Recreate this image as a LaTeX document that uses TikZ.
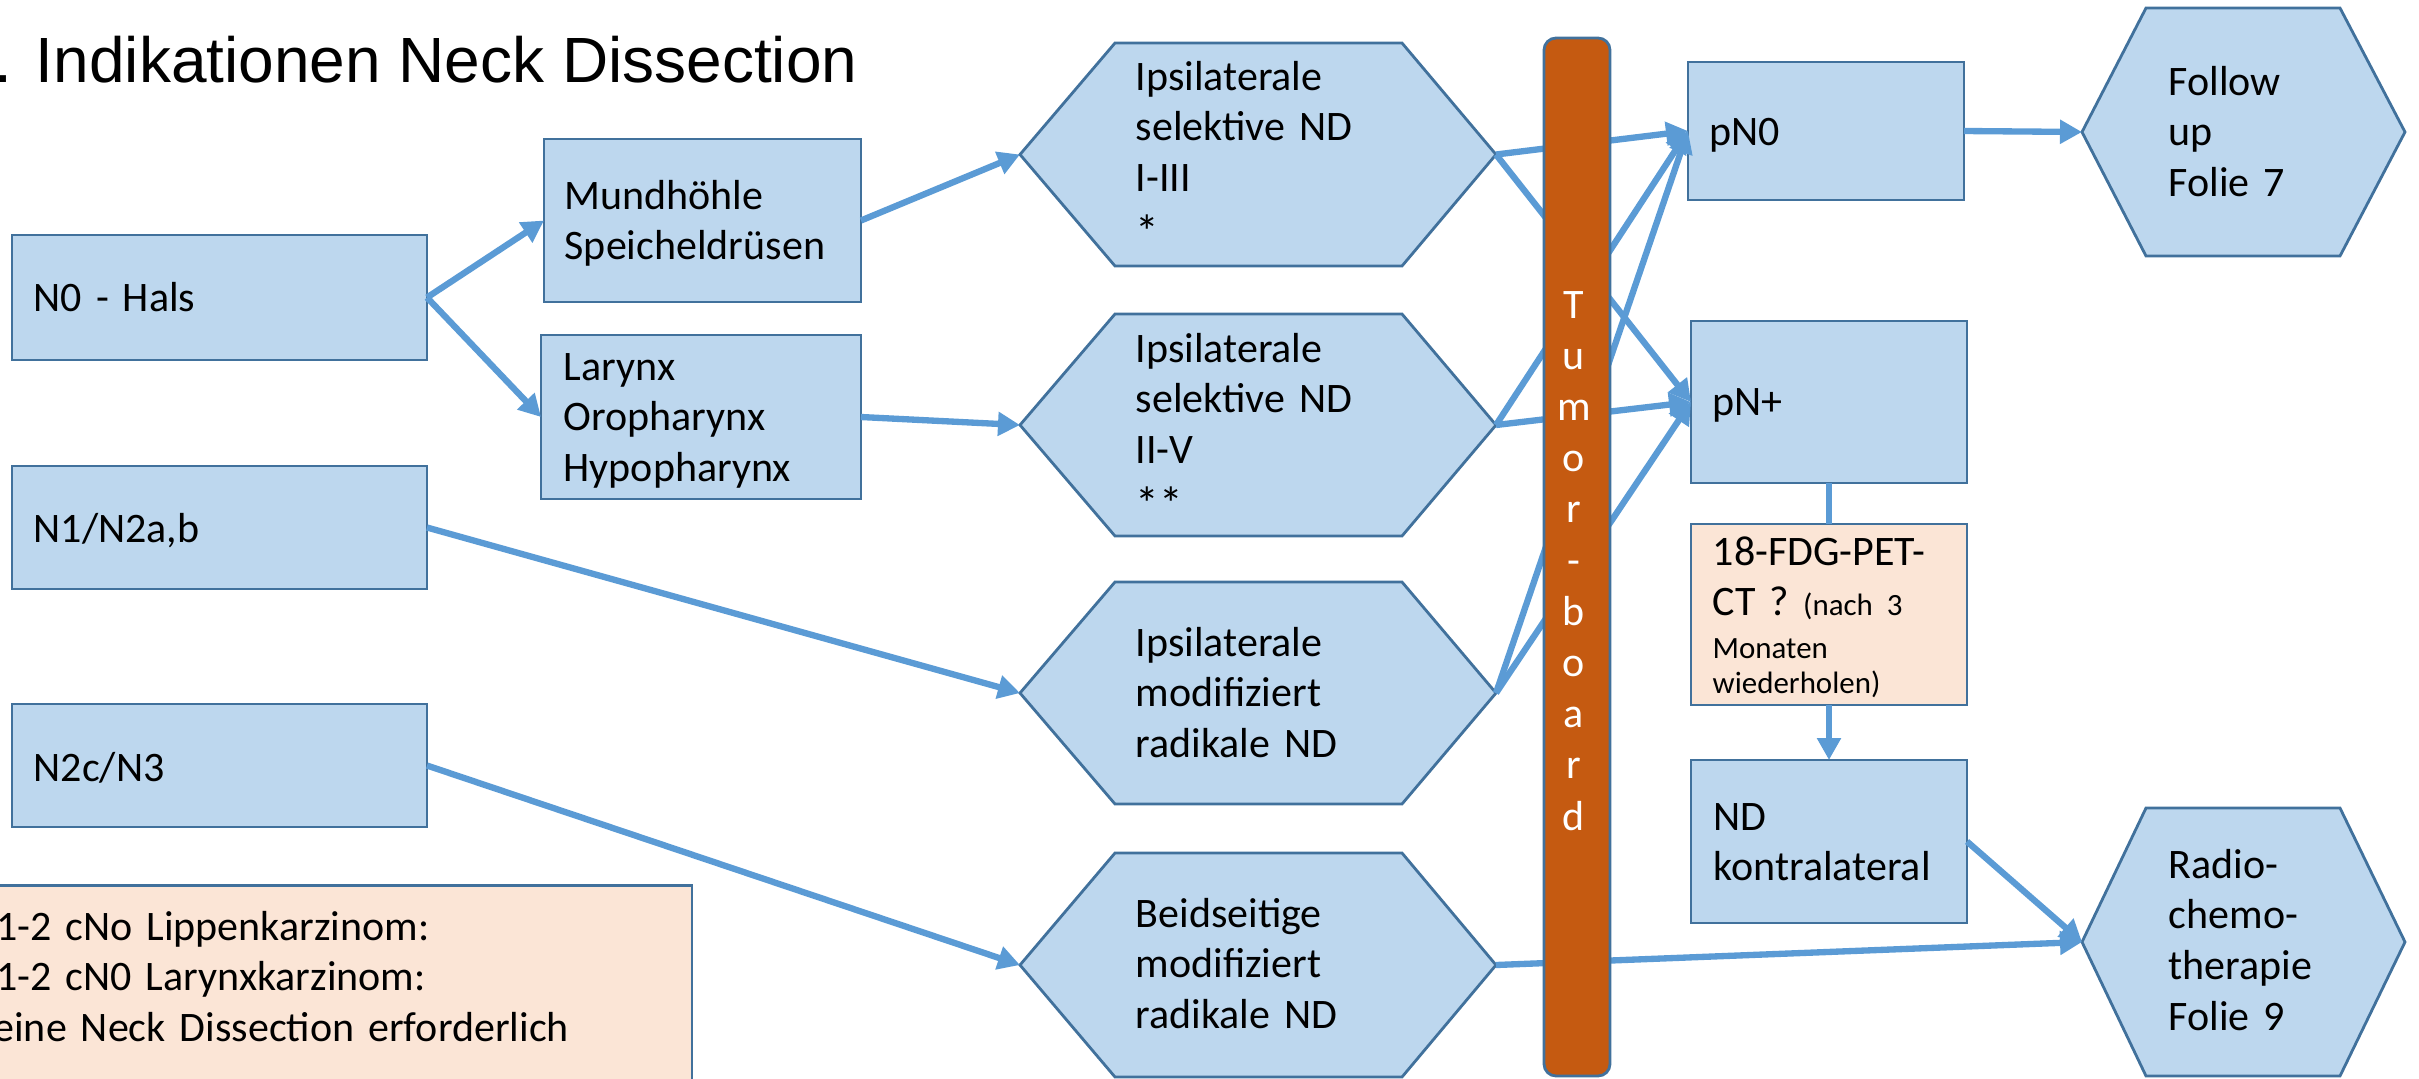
\documentclass[tikz,border=0pt]{standalone}
\usepackage{fontspec}
\setmainfont{Carlito}
\newfontfamily\titlefont{Liberation Sans}
\usetikzlibrary{arrows.meta}
\definecolor{boxfill}{HTML}{BDD7EE}
\definecolor{boxline}{HTML}{41719C}
\definecolor{peach}{HTML}{FBE5D6}
\definecolor{arrowc}{HTML}{5B9BD5}
\definecolor{barfill}{HTML}{C55A11}
\newcommand{\hexa}[7]{%
  \path (#2,{(#6+#7)/2}) coordinate (#1w) (#5,{(#6+#7)/2}) coordinate (#1e);
  \draw[hexstyle] (#1w) -- (#3,#6) -- (#4,#6) -- (#1e) -- (#4,#7) -- (#3,#7) -- cycle;}
\newcommand{\bigast}[1]{\raisebox{-1.6pt}{\fontsize{13.5}{14}\selectfont #1}}
\begin{document}
\begin{tikzpicture}[x=0.1mm,y=-0.1mm,
  box/.style={rectangle, draw=boxline, fill=boxfill, line width=0.8pt, outer sep=0pt, inner sep=0pt},
  notebox/.style={box, fill=peach},
  hexstyle/.style={draw=boxline, fill=boxfill, line width=0.8pt, line join=miter},
  txt/.style={anchor=base west, inner sep=0pt, text width=40mm, align=left, font=\fontsize{11.95}{14.5}\selectfont},
  arr/.style={draw=arrowc, line width=1.8pt, -{Triangle[length=2.2mm,width=2.3mm]}},
  conn/.style={draw=arrowc, line width=1.8pt},
  barstyle/.style={rectangle, rounded corners=1.2mm, draw=boxline, fill=barfill, line width=0.8pt, outer sep=0pt, inner sep=0pt}]
\useasboundingbox (0,0) rectangle (2419,1078);

% title
\node[anchor=base east, inner sep=0pt, font=\titlefont\fontsize{18.2}{22}\selectfont] (title) at (858,82) {7. Indikationen Neck Dissection};

% boxes
\node[box, minimum width=41.5mm, minimum height=12.5mm] (n0) at (219.5,297.5) {};
\node[box, minimum width=41.5mm, minimum height=12.3mm] (n1) at (219.5,527.5) {};
\node[box, minimum width=41.5mm, minimum height=12.3mm] (n2) at (219.5,765.5) {};
\node[box, minimum width=31.7mm, minimum height=16.3mm] (mund) at (702.5,220.5) {};
\node[box, minimum width=32.0mm, minimum height=16.4mm] (lar) at (701,417) {};
\node[notebox, minimum width=71.2mm, minimum height=21.5mm] (note) at (336,993) {};
\node[box, minimum width=27.6mm, minimum height=13.8mm] (pn0) at (1826,131) {};
\node[box, minimum width=27.6mm, minimum height=16.2mm] (pnp) at (1829,402) {};
\node[notebox, minimum width=27.6mm, minimum height=18.1mm] (fdg) at (1829,614.5) {};
\node[box, minimum width=27.6mm, minimum height=16.3mm] (nd) at (1829,841.5) {};

% hexagons
\hexa{ha}{1020}{1115}{1402}{1496}{43}{266}
\hexa{hb}{1020}{1115}{1402}{1496}{314}{536}
\hexa{hc}{1020}{1115}{1402}{1496}{582}{804}
\hexa{hd}{1020}{1115}{1402}{1496}{853}{1077}
\hexa{hf}{2082}{2146}{2340}{2405}{8}{256}
\hexa{hr}{2082}{2146}{2340}{2405}{808}{1076}

% texts
\node[txt] (t-n0) at (33,311) {N0 - Hals};
\node[txt] (t-n1) at (33,542) {N1/N2a,b};
\node[txt] (t-n2) at (33,781) {N2c/N3};
\node[txt] (t-mund) at (564,209) {Mundhöhle\\Speicheldrüsen};
\node[txt] (t-lar) at (563,380) {Larynx\\Oropharynx\\Hypopharynx};
\node[txt, text width=80mm] (t-note) at (-25,940) {T1-2 cNo Lippenkarzinom:\\T1-2 cN0 Larynxkarzinom:\\keine Neck Dissection erforderlich};
\node[txt] (t-ha) at (1135,90) {Ipsilaterale\\selektive ND\\I-III\\\bigast{*}};
\node[txt] (t-hb) at (1135,362) {Ipsilaterale\\selektive ND\\II-V\\\bigast{**}};
\node[txt] (t-hc) at (1135,656) {Ipsilaterale\\modifiziert\\radikale ND};
\node[txt] (t-hd) at (1135,927) {Beidseitige\\modifiziert\\radikale ND};
\node[txt] (t-pn0) at (1709,145) {pN0};
\node[txt] (t-pnp) at (1712,415) {pN+};
\node[txt, text width=25mm] (t-fdg) at (1712,565) {18-FDG-PET-\par CT ? {\fontsize{8.8}{14.5}\selectfont (nach 3}\par \fontsize{8.8}{12.2}\selectfont Monaten\par \fontsize{8.8}{10}\selectfont wiederholen)\par};
\node[txt] (t-nd) at (1713,830) {ND\\kontralateral};
\node[txt] (t-hf) at (2168,95) {Follow\\up\\Folie 7};
\node[txt] (t-hr) at (2168,878) {Radio-\\chemo-\\therapie\\Folie 9};

% connectors
\draw[arr] (n0.east) -- (mund.west);
\draw[arr] (n0.east) -- (lar.west);
\draw[arr] (mund.east) -- (haw);
\draw[arr] (lar.east) -- (hbw);
\draw[arr] (n1.east) -- (hcw);
\draw[arr] (n2.east) -- (hdw);
\draw[arr] (hae) -- (pn0.west);
\draw[arr] (hae) -- (pnp.west);
\draw[arr] (hbe) -- (pn0.west);
\draw[arr] (hbe) -- (pnp.west);
\draw[arr] (hce) -- (pn0.west);
\draw[arr] (hce) -- (pnp.west);
\draw[arr] (hde) -- (hrw);
\draw[arr] (pn0.east) -- (hfw);
\draw[conn] (pnp.south) -- (fdg.north);
\draw[arr] (fdg.south) -- (nd.north);
\draw[arr] (nd.east) -- (hrw);

% tumor board bar
\node[barstyle, minimum width=6.6mm, minimum height=103.8mm] (tb) at (1577,557) {};
\node[anchor=base, inner sep=0pt, text width=6mm, align=center, text=white, font=\fontsize{11.95}{14.57}\selectfont] (tbt) at (1574,318) {T\\u\\m\\o\\r\\-\\b\\o\\a\\r\\d};
\end{tikzpicture}
\end{document}
